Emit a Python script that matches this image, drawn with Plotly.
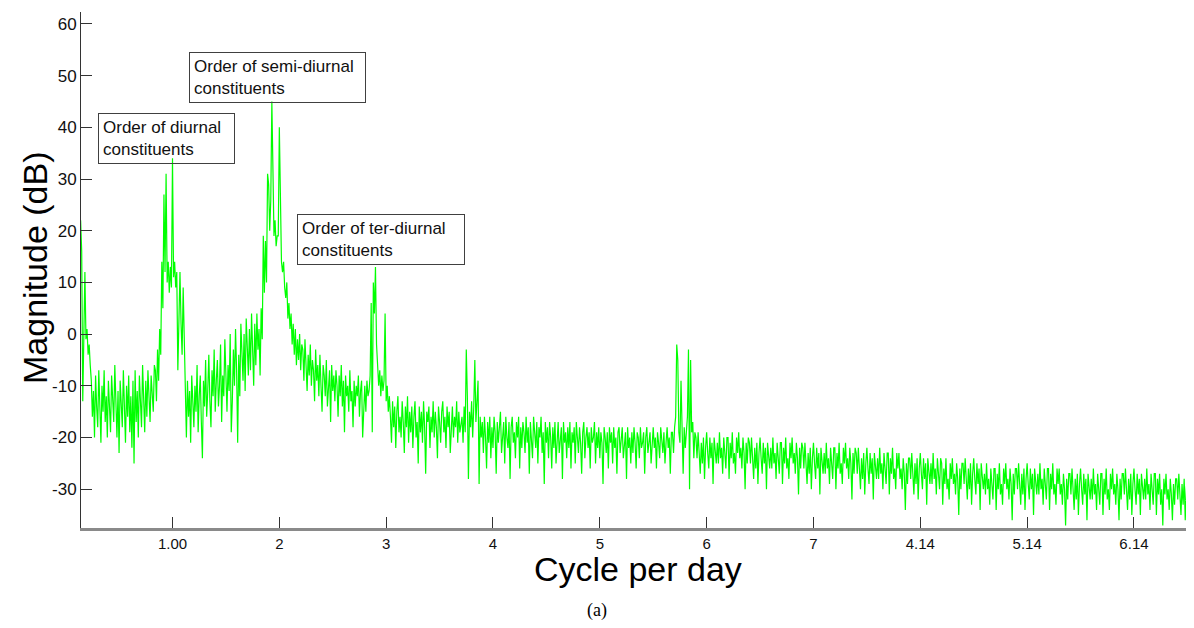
import numpy as np
import plotly.graph_objects as go

# ---------------- data (magnitude in dB) ----------------
# each segment: frequency band (cycles per day) and the magnitudes sampled evenly inside it
start_f = (0.14, 0.23)
start_db = [22, 16, -13, 0, 12, -1, 1, -4, -2, -6]

pre_diurnal_f = (0.24, 0.83)
pre_diurnal_db = [
    -9, -16, -11, -20, -8, -14, -18, -7, -13, -21,
    -10, -15, -7, -17, -12, -20, -9, -14, -19, -8,
    -12, -17, -6, -15, -20, -11, -23, -9, -14, -18,
    -7, -13, -21, -10, -16, -8, -19, -12, -22, -9,
    -25, -7, -17, -11, -20, -8, -14, -18, -6, -13,
    -19, -9, -16, -7, -12, -17, -8, -11, -15, -6]

diurnal_f = (0.84, 1.11)
diurnal_db = [-7, -13, -3, -9, 1, -4, 14, 5, 27, 12, 31, 10, 14, 8, 13, 9,
              34, 11, 14, 9, 12, -7, 5, 12, 2, -4, 9, -2]

between_f = (1.12, 1.76)
between_db = [
    -14, -20, -9, -16, -11, -21, -8, -13, -18, -10,
    -15, -6, -19, -12, -8, -17, -24, -9, -14, -5,
    -16, -11, -4, -13, -18, -7, -12, -3, -15, -9,
    -5, -14, -10, -2, -17, -8, -12, -1, -9, -15,
    -6, -11, 0, -19, -13, -3, -10, 1, -7, -21,
    -4, -12, 2, -6, -9, 0, -11, 3, -5, -8,
    1, -7, 4, -3, -10]

semidiurnal_f = (1.77, 2.21)
semidiurnal_db = [2, -6, 4, -3, 1, -8, 5, -1, 19, 8, 18, 10, 31, 29, 20, 26,
                  45, 26, 19, 22, 17, 19, 19, 40, 28, 14, 12, 14, 9, 7,
                  10, 3, 6, 1, 4, -2, 2, -4, 1, -6, -1, -5, 0, -7, -2]

decay_f = (2.22, 2.84)
decay_db = [
    -3, -9, -1, -6, -11, -4, -8, -2, -10, -5,
    -7, -13, -3, -9, -6, -12, -4, -10, -15, -6,
    -8, -12, -5, -14, -9, -7, -17, -6, -11, -8,
    -13, -7, -10, -16, -8, -12, -6, -14, -9, -19,
    -8, -12, -10, -15, -7, -13, -11, -18, -9, -14,
    -10, -12, -8, -16, -11, -9, -20, -13, -10, -15,
    -9, -12, -11]

terdiurnal_f = (2.85, 3.03)
terdiurnal_db = [-8, 6, -19, 10, 4, 13, -2, -6, -10, -7, -12, -8, -11, -9, 4,
                 -13, -10, -15, -12]

band_a_f = (3.04, 3.70)
band_a_db = [
    -16, -21, -13, -18, -14, -22, -15, -12, -19, -16,
    -20, -13, -17, -23, -14, -18, -12, -21, -15, -19,
    -14, -22, -16, -13, -20, -17, -25, -14, -19, -15,
    -21, -13, -18, -27, -15, -17, -14, -22, -16, -19,
    -13, -20, -15, -18, -24, -14, -17, -21, -15, -13,
    -19, -16, -22, -14, -18, -15, -23, -17, -14, -20,
    -16, -18, -13, -21, -15, -19, -17]

peaks_b_f = (3.71, 3.89)
peaks_b_db = [-16, -21, -14, -19, -3, -12, -28, -15, -18, -13, -20, -14, -5,
              -17, -13, -9, -29, -16, -20]

band_c_f = (3.90, 5.67)
band_c_db = [
    -17, -23, -16, -20, -26, -17, -21, -16, -24, -18,
    -22, -16, -19, -27, -17, -21, -18, -15, -23, -19,
    -17, -25, -16, -20, -22, -17, -28, -18, -16, -21,
    -19, -24, -17, -20, -16, -26, -18, -22, -17, -19,
    -23, -16, -21, -18, -27, -17, -20, -24, -16, -19,
    -22, -17, -25, -18, -20, -16, -23, -19, -29, -17,
    -21, -18, -24, -17, -20, -26, -18, -22, -17, -25,
    -19, -17, -23, -20, -18, -28, -17, -21, -19, -24,
    -18, -22, -17, -26, -19, -21, -18, -25, -17, -20,
    -23, -18, -21, -27, -19, -17, -24, -20, -18, -22,
    -19, -26, -18, -21, -20, -17, -25, -19, -22, -18,
    -24, -19, -21, -29, -18, -20, -23, -19, -26, -18,
    -21, -19, -25, -18, -22, -20, -27, -19, -18, -23,
    -20, -18, -24, -21, -19, -28, -18, -22, -20, -25,
    -19, -23, -18, -21, -26, -19, -20, -24, -18, -22,
    -21, -19, -27, -20, -18, -23, -21, -19, -25, -20,
    -18, -22, -20, -26, -19, -21, -24, -18, -20, -23,
    -19, -25, -21, -18, -22, -20, -27, -19]

peaks_d_f = (5.68, 5.89)
peaks_d_db = [-19, -23, -18, -16, -2, -5, -19, -21, -9, -20, -27, -18, -22,
              -19, -16, -3, -30, -5, -19, -17, -24, -19]

tail_f = (5.90, 10.56)
tail_db = [
    -20, -24, -19, -23, -27, -21, -25, -20, -28, -22,
    -19, -23, -26, -20, -24, -21, -29, -20, -23, -25,
    -21, -25, -19, -24, -22, -27, -20, -23, -26, -20,
    -20, -28, -21, -24, -19, -25, -23, -27, -20, -23,
    -19, -24, -22, -26, -20, -23, -30, -21, -25, -20,
    -21, -25, -20, -24, -28, -22, -26, -21, -29, -23,
    -20, -24, -27, -21, -25, -22, -30, -21, -24, -26,
    -22, -26, -20, -25, -23, -28, -21, -24, -27, -21,
    -21, -29, -22, -25, -20, -26, -24, -28, -21, -24,
    -20, -25, -23, -27, -21, -24, -31, -22, -26, -21,
    -22, -26, -21, -25, -29, -23, -27, -22, -30, -24,
    -21, -25, -28, -22, -26, -23, -31, -22, -25, -27,
    -23, -27, -21, -26, -24, -29, -22, -25, -28, -22,
    -22, -30, -23, -26, -21, -27, -25, -29, -22, -25,
    -21, -26, -24, -28, -22, -25, -32, -23, -27, -22,
    -23, -27, -22, -26, -30, -24, -28, -23, -31, -25,
    -22, -26, -29, -23, -27, -24, -32, -23, -26, -28,
    -24, -28, -22, -27, -25, -30, -23, -26, -29, -23,
    -23, -31, -24, -27, -22, -28, -26, -30, -23, -26,
    -23, -28, -26, -30, -24, -27, -34, -25, -29, -24,
    -24, -28, -23, -27, -31, -25, -29, -24, -32, -26,
    -23, -27, -30, -24, -28, -25, -33, -24, -27, -29,
    -25, -29, -23, -28, -26, -31, -24, -27, -30, -24,
    -25, -33, -26, -29, -24, -30, -28, -32, -25, -28,
    -24, -29, -27, -31, -25, -28, -35, -26, -30, -25,
    -25, -29, -24, -28, -32, -26, -30, -25, -33, -27,
    -24, -28, -31, -25, -29, -26, -34, -25, -28, -30,
    -27, -31, -25, -30, -28, -33, -26, -29, -32, -26,
    -26, -34, -27, -30, -25, -31, -29, -33, -26, -29,
    -25, -30, -28, -32, -26, -29, -36, -27, -31, -26,
    -26, -30, -25, -29, -33, -27, -31, -26, -34, -28,
    -25, -29, -32, -26, -30, -27, -35, -26, -29, -31,
    -27, -31, -25, -30, -28, -33, -26, -29, -32, -26,
    -26, -34, -27, -30, -25, -31, -29, -33, -26, -29,
    -26, -31, -29, -33, -27, -30, -37, -28, -32, -27,
    -27, -31, -26, -30, -34, -28, -32, -27, -35, -29,
    -26, -30, -33, -27, -31, -28, -36, -27, -30, -32,
    -28, -32, -26, -31, -29, -34, -27, -30, -33, -27,
    -27, -35, -28, -31, -26, -32, -30, -34, -27, -30,
    -26, -31, -29, -33, -27, -30, -36, -28, -32, -27,
    -27, -31, -26, -30, -34, -28, -32, -27, -35, -29,
    -26, -30, -33, -27, -31, -28, -35, -27, -30, -32,
    -28, -32, -26, -31, -29, -34, -27, -30, -33, -27,
    -27, -35, -28, -31, -27, -33, -30, -37, -28, -31,
    -27, -32, -30, -34, -28, -31, -36, -29, -33, -28,
    -28, -32, -27, -31, -35, -29, -33, -28, -36, -30,
    -27, -31, -34, -28, -32, -29, -33]

segments = [
    (start_f, start_db), (pre_diurnal_f, pre_diurnal_db), (diurnal_f, diurnal_db),
    (between_f, between_db), (semidiurnal_f, semidiurnal_db), (decay_f, decay_db),
    (terdiurnal_f, terdiurnal_db), (band_a_f, band_a_db), (peaks_b_f, peaks_b_db),
    (band_c_f, band_c_db), (peaks_d_f, peaks_d_db), (tail_f, tail_db),
]

x_tick_vals = [1, 2, 3, 4, 5, 6, 7, 8, 9, 10]
x_tick_text = ["1.00", "2", "3", "4", "5", "6", "7", "4.14", "5.14", "6.14"]
y_tick_vals = [-30, -20, -10, 0, 10, 20, 30, 40, 50, 60]
y_tick_text = ["-30", "-20", "-10", "0", "10", "20", "30", "40", "50", "60"]

freq, mag = [], []
for (f0, f1), vals in segments:
    freq.extend(np.linspace(f0, f1, len(vals)).tolist())
    mag.extend(vals)

# ---------------- figure ----------------
FONT = "Arial, Liberation Sans, sans-serif"
fig = go.Figure()
fig.add_trace(go.Scatter(x=freq, y=mag, mode="lines",
                         line=dict(color="#00ff00", width=1.2), hoverinfo="skip"))

box = dict(xref="x", yref="y", xanchor="left", yanchor="top", align="left",
           showarrow=False, bordercolor="#404040", borderwidth=1, borderpad=4,
           bgcolor="rgba(0,0,0,0)", font=dict(family=FONT, size=17, color="#111"))
annotations = [
    dict(x=0.3026, y=42.75, text="Order of diurnal<br>constituents", width=127, **box),
    dict(x=1.154, y=54.5, text="Order of semi-diurnal<br>constituents", width=167, **box),
    dict(x=2.165, y=23.3, text="Order of ter-diurnal<br>constituents", width=158, **box),
    dict(xref="paper", yref="paper", x=0.5, y=-0.080, xanchor="center", yanchor="middle",
         text="Cycle per day", showarrow=False, font=dict(family=FONT, size=34, color="#000")),
    dict(xref="paper", yref="paper", x=-0.0413, y=0.504, xanchor="center", yanchor="middle",
         text="Magnitude (dB)", textangle=-90, showarrow=False,
         font=dict(family=FONT, size=34, color="#000")),
    dict(xref="paper", yref="paper", x=0.4636, y=-0.159, xanchor="center", yanchor="middle",
         text="(a)", showarrow=False,
         font=dict(family="Liberation Serif, Times New Roman, serif", size=18, color="#000")),
]

# the page adds an 8 px body margin, so the figure is sized/offset to compensate
fig.update_layout(
    width=1186, height=612,
    margin=dict(l=73, r=0, t=4, b=92),
    paper_bgcolor="white", plot_bgcolor="white",
    showlegend=False,
    annotations=annotations,
)
fig.update_xaxes(range=[0.1435, 10.562], tickvals=x_tick_vals, ticktext=x_tick_text,
                 ticks="inside", ticklen=11, tickwidth=1, tickcolor="#333",
                 showline=True, linecolor="#8a8a8a", linewidth=3,
                 showgrid=False, zeroline=False,
                 tickfont=dict(family=FONT, size=15, color="#111"))
fig.update_yaxes(range=[-37.5, 62.3], tickvals=y_tick_vals, ticktext=y_tick_text,
                 ticks="inside", ticklen=11, tickwidth=1, tickcolor="#333",
                 showline=True, linecolor="#333", linewidth=1,
                 showgrid=False, zeroline=False,
                 tickfont=dict(family=FONT, size=17, color="#111"))

fig.write_html("out.html")
